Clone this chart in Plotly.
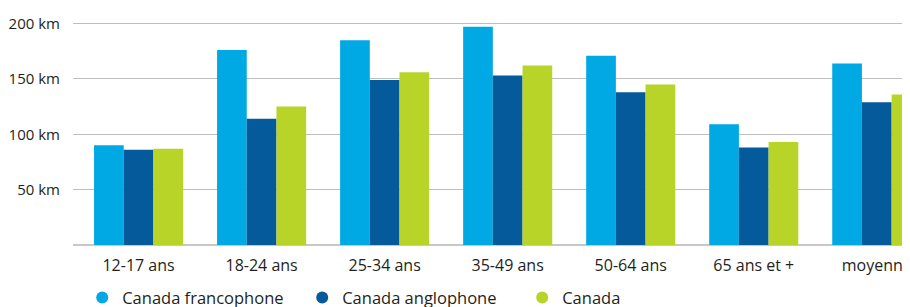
import plotly.graph_objects as go

categories = ["12-17 ans", "18-24 ans", "25-34 ans", "35-49 ans", "50-64 ans", "65 ans et +", "moyenne"]
francophone = [90, 176, 185, 197, 171, 109, 164]
anglophone = [86, 114, 149, 153, 138, 88, 129]
canada = [87, 125, 156, 162, 145, 93, 136]
y_tickvals = [50, 100, 150, 200]
y_ticktext = ["50 km", "100 km", "150 km", "200 km"]

series = [
    ("Canada francophone", francophone, "#00A9E4"),
    ("Canada anglophone", anglophone, "#045A9B"),
    ("Canada", canada, "#B8D428"),
]

fig = go.Figure()
for name, vals, col in series:
    fig.add_trace(go.Bar(x=categories, y=vals, name=name, marker=dict(color=col, line_width=0),
                         showlegend=False))
for name, vals, col in series:
    fig.add_trace(go.Scatter(x=[None], y=[None], mode="markers", name=name,
                             marker=dict(symbol="circle", size=15, color=col)))

fig.update_layout(
    width=910, height=307,
    margin=dict(l=65, r=8, t=10, b=70, autoexpand=False),
    paper_bgcolor="white", plot_bgcolor="white",
    font=dict(family="Open Sans", color="#231F20", size=16),
    barmode="group", bargap=0.276, bargroupgap=0,
    xaxis=dict(type="category", range=[-0.533, 6.27], showgrid=False, showline=False,
               ticks="", tickfont=dict(size=16), ticklabelstandoff=9, zeroline=False,
               automargin=False),
    yaxis=dict(range=[0, 205], tickvals=y_tickvals, ticktext=y_ticktext,
               showgrid=True, gridcolor="#BEBEBE", gridwidth=1.3,
               zeroline=True, zerolinecolor="#C8C8C8", zerolinewidth=2,
               showline=False, ticks="", tickfont=dict(size=15), ticklabelstandoff=12,
               automargin=False),
    legend=dict(orientation="h", x=0.011, xanchor="left", y=-0.155, yanchor="top",
                font=dict(size=16.5), itemsizing="constant", entrywidth=175,
                bgcolor="rgba(0,0,0,0)"),
)

fig.write_html("out.html")
